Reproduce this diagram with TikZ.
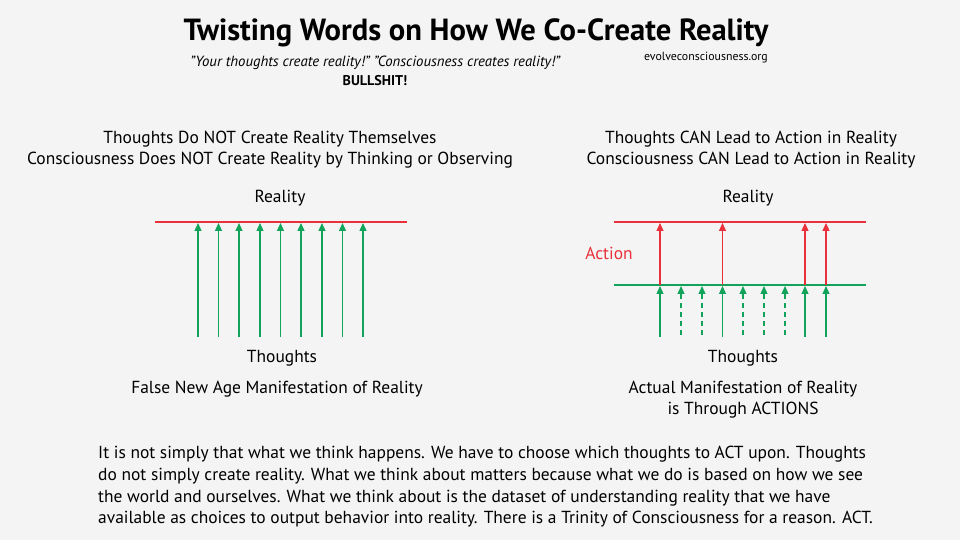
\documentclass[tikz,border=0pt]{standalone}
\usepackage{fontspec}
\setmainfont{PT Sans}
\usetikzlibrary{arrows.meta}
\definecolor{realred}{HTML}{E8313A}
\definecolor{thoughtgreen}{HTML}{12A35A}
\definecolor{paper}{HTML}{F4F4F4}
\newcommand{\sq}{\symbol{34}}
\tikzset{
  txt/.style={inner sep=0pt, font=\fontsize{17.5}{20}\selectfont},
  bodytxt/.style={inner sep=0pt, anchor=base west, font=\fontsize{17.5}{20}\selectfont},
  realline/.style={realred, line width=2pt},
  thoughtline/.style={thoughtgreen, line width=2pt},
  thought/.style={thoughtgreen, line width=1.3pt, -{Triangle[width=7pt,length=8pt]}},
  idle/.style={thought, dash pattern=on 5pt off 4pt},
  act/.style={realred, line width=1.3pt, -{Triangle[width=7pt,length=8pt]}}
}
\begin{document}
\begin{tikzpicture}[x=1bp,y=-1bp]
  \fill[paper] (0,0) rectangle (960,540);
  % header
  \node[txt, font=\bfseries\fontsize{30.7}{34}\selectfont] (title) at (476,33) {Twisting Words on How We Co-Create Reality};
  \node[txt, font=\itshape\fontsize{14.8}{17}\selectfont] (quote) at (375,63) {\sq Your thoughts create reality!\sq{} \sq Consciousness creates reality!\sq};
  \node[txt, font=\bfseries\fontsize{14.2}{17}\selectfont] (bs) at (375,81) {BULLSHIT!};
  \node[txt, font=\fontsize{11.9}{14}\selectfont] (site) at (706,58) {evolveconsciousness.org};

  % left panel: thoughts straight to reality
  \node[txt] (lhead1) at (270,139) {Thoughts Do NOT Create Reality Themselves};
  \node[txt] (lhead2) at (270,160) {Consciousness Does NOT Create Reality by Thinking or Observing};
  \node[txt] (lreal) at (280,198) {Reality};
  \coordinate (la) at (155,222);
  \coordinate (lb) at (407,222);
  \draw[realline] (la) -- (lb);
  \foreach \x [count=\i] in {198,218.5,239,260,280.5,301,322,342.5,363}{
    \coordinate (lt\i) at (\x,337);
    \coordinate (lr\i) at (\x,223);
    \draw[thought] (lt\i) -- (lr\i);
  }
  \node[txt] (lthought) at (282,358) {Thoughts};
  \node[txt] (lfoot) at (277,389) {False New Age Manifestation of Reality};

  % right panel: thoughts lead to action
  \node[txt] (rhead1) at (751,139) {Thoughts CAN Lead to Action in Reality};
  \node[txt] (rhead2) at (751,160) {Consciousness CAN Lead to Action in Reality};
  \node[txt] (rreal) at (748,198) {Reality};
  \node[txt, text=realred] (action) at (609,253) {Action};
  \coordinate (ra) at (614,222);
  \coordinate (rb) at (866,222);
  \coordinate (ga) at (614,285);
  \coordinate (gb) at (866,285);
  \draw[realline] (ra) -- (rb);
  \draw[thoughtline] (ga) -- (gb);
  \foreach \x [count=\i] in {660,722.5,805,826}{
    \coordinate (rt\i) at (\x,337);
    \coordinate (rg\i) at (\x,286);
    \coordinate (ru\i) at (\x,285);
    \coordinate (rr\i) at (\x,223);
    \draw[act] (ru\i) -- (rr\i);
    \draw[thought] (rt\i) -- (rg\i);
  }
  \foreach \x [count=\i] in {681,702,743,764,785}{
    \coordinate (dt\i) at (\x,335);
    \coordinate (dg\i) at (\x,286);
    \draw[idle] (dt\i) -- (dg\i);
  }
  \node[txt] (rthought) at (743,358) {Thoughts};
  \node[txt] (rfoot1) at (743,389) {Actual Manifestation of Reality};
  \node[txt] (rfoot2) at (743,410) {is Through ACTIONS};

  % explanation
  \node[bodytxt] (body1) at (98,458) {It is not simply that what we think happens. We have to choose which thoughts to ACT upon. Thoughts};
  \node[bodytxt] (body2) at (98,480) {do not simply create reality. What we think about matters because what we do is based on how we see};
  \node[bodytxt] (body3) at (98,502) {the world and ourselves. What we think about is the dataset of understanding reality that we have};
  \node[bodytxt] (body4) at (98,523) {available as choices to output behavior into reality. There is a Trinity of Consciousness for a reason. ACT.};
\end{tikzpicture}
\end{document}
